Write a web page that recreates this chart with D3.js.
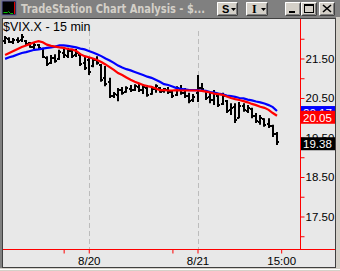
<!DOCTYPE html>
<html><head><meta charset="utf-8">
<script src="https://cdn.jsdelivr.net/npm/d3@7"></script>
<style>html,body{margin:0;padding:0;background:#d4d0c8;overflow:hidden}svg{display:block}</style>
</head><body>
<script>
// ---- data (15-min bars, $VIX.X) ----
const highs = [22.07,22.04,22.02,22.04,22.12,21.97,21.92,21.89,21.87,21.77,
21.56,21.59,21.61,21.72,21.77,21.77,21.74,21.74,21.61,21.54,
21.51,21.51,21.56,21.36,21.31,21.01,20.65,20.75,20.78,20.80,
20.83,20.85,20.88,20.85,20.83,20.80,20.85,20.78,20.75,20.78,
20.70,20.80,20.83,20.75,20.63,20.60,21.08,20.88,20.70,20.65,
20.70,20.58,20.63,20.45,20.37,20.37,20.40,20.37,20.32,20.25,
20.12,20.07,19.99,19.99,19.82,19.64];
const lows = [21.87,21.89,21.87,21.89,21.92,21.82,21.77,21.74,21.72,21.51,
21.31,21.36,21.39,21.46,21.51,21.51,21.51,21.54,21.31,21.21,
21.08,21.28,21.34,20.91,20.80,20.50,20.50,20.42,20.58,20.63,
20.65,20.68,20.65,20.60,20.53,20.58,20.63,20.63,20.63,20.60,
20.50,20.55,20.58,20.50,20.37,20.40,20.40,20.68,20.45,20.37,
20.32,20.27,20.32,20.12,20.07,19.87,19.99,20.15,20.12,19.99,
19.87,19.82,19.77,19.74,19.51,19.31];
const opens = [21.95,22.00,21.92,21.97,21.96,21.95,21.88,21.80,21.84,21.75,
21.52,21.38,21.50,21.48,21.65,21.57,21.68,21.58,21.60,21.38,
21.45,21.30,21.46,21.34,21.00,20.90,20.56,20.58,20.70,20.64,
20.74,20.71,20.79,20.70,20.76,20.60,20.72,20.76,20.67,20.70,
20.64,20.57,20.74,20.63,20.56,20.44,20.62,20.76,20.68,20.52,
20.44,20.55,20.35,20.42,20.20,20.28,20.00,20.30,20.18,20.22,
20.05,19.90,19.97,19.84,19.78,19.60];
const closes = [22.02,21.93,21.98,21.95,22.05,21.86,21.80,21.85,21.76,21.55,
21.35,21.52,21.44,21.66,21.58,21.70,21.56,21.64,21.36,21.25,
21.15,21.47,21.38,20.95,20.86,20.55,20.60,20.70,20.62,20.76,
20.70,20.80,20.70,20.78,20.58,20.74,20.80,20.66,20.72,20.64,
20.55,20.75,20.62,20.55,20.42,20.52,20.75,20.72,20.50,20.45,
20.62,20.33,20.55,20.18,20.25,19.95,20.30,20.20,20.25,20.05,
19.92,20.00,19.82,19.80,19.58,19.38];
const avgFast = [21.59,21.64,21.69,21.74,21.79,21.83,21.87,21.91,21.94,21.91,
21.85,21.82,21.80,21.78,21.77,21.74,21.73,21.69,21.61,21.56,
21.53,21.50,21.46,21.41,21.35,21.28,21.21,21.13,21.08,21.02,
20.96,20.91,20.87,20.83,20.80,20.78,20.74,20.70,20.70,20.69,
20.69,20.70,20.69,20.69,20.69,20.69,20.69,20.68,20.66,20.64,
20.61,20.60,20.58,20.54,20.50,20.47,20.45,20.42,20.39,20.35,
20.32,20.28,20.25,20.20,20.12,20.05];
const avgSlow = [21.49,21.53,21.56,21.60,21.64,21.66,21.69,21.72,21.73,21.75,
21.77,21.78,21.80,21.83,21.83,21.82,21.80,21.78,21.75,21.73,
21.69,21.65,21.61,21.56,21.50,21.45,21.39,21.32,21.27,21.23,
21.20,21.16,21.12,21.08,21.04,21.01,20.96,20.91,20.85,20.83,
20.79,20.75,20.73,20.72,20.70,20.70,20.70,20.69,20.68,20.65,
20.64,20.61,20.59,20.56,20.55,20.53,20.50,20.49,20.46,20.44,
20.41,20.39,20.36,20.32,20.27,20.17];
const xTickIdx    = [14, 20, 40, 46, 66];
const xTickLabels = ["", "8/20", "", "8/21", "15:00"];
const dayBreakIdx = [20, 46];
const yTickValues = [17.0,17.5,18.0,18.5,19.0,19.5,20.0,20.5,21.0,21.5,22.0];
const yLabelValues = [17.5,18.5,19.5,20.5,21.5];
const symbolText = "$VIX.X - 15 min";
const titleText = "TradeStation Chart Analysis - $...";

// ---- layout ----
const W = 340, H = 271;
const svg = d3.select("body").append("svg").attr("width", W).attr("height", H);
const FONT = "'Liberation Sans', Arial, sans-serif";

// window frame
svg.append("rect").attr("x",0).attr("y",0).attr("width",W).attr("height",H).attr("fill","#d4d0c8");
// title bar
svg.append("rect").attr("x",0).attr("y",0).attr("width",W).attr("height",17).attr("fill","#808080");
// icon
svg.append("rect").attr("x",2).attr("y",1).attr("width",14).attr("height",14).attr("fill","#000").attr("stroke","#5a5a9a").attr("stroke-width",1);
svg.append("line").attr("x1",14.5).attr("x2",14.5).attr("y1",2).attr("y2",14).attr("stroke","#e00000").attr("stroke-width",1);
svg.append("path").attr("d","M3.5,12.5 L7.5,12.5 L8.5,11.5 L10.5,13.5 L13,13.5").attr("fill","none").attr("stroke","#00c000").attr("stroke-width",1);
svg.append("text").attr("x",21).attr("y",13).attr("fill","#d4d0c8")
  .attr("font-family","'DejaVu Sans', Verdana, sans-serif").attr("font-weight","bold").attr("font-size",12)
  .attr("textLength",184).attr("lengthAdjust","spacingAndGlyphs").text(titleText);

function button(x, y, w, h) {
  svg.append("rect").attr("x",x).attr("y",y).attr("width",w).attr("height",h).attr("fill","#d4d0c8");
  svg.append("path").attr("d",`M${x+0.5},${y+h-0.5} V${y+0.5} H${x+w-0.5}`).attr("fill","none").attr("stroke","#fff");
  svg.append("path").attr("d",`M${x+0.5},${y+h-0.5} H${x+w-0.5} V${y+0.5}`).attr("fill","none").attr("stroke","#404040");
  svg.append("path").attr("d",`M${x+1.5},${y+h-1.5} H${x+w-1.5} V${y+1.5}`).attr("fill","none").attr("stroke","#808080");
}
button(217,2,21,14);
svg.append("text").attr("x",222).attr("y",13).attr("font-family",FONT).attr("font-weight","bold").attr("font-size",11).text("S");
svg.append("path").attr("d","M231,8 h5 l-2.5,3 z").attr("fill","#000");
button(246,2,22,14);
svg.append("text").attr("x",252).attr("y",13).attr("font-family","'Liberation Serif', serif").attr("font-weight","bold").attr("font-size",12).text("I");
svg.append("path").attr("d","M261,8 h5 l-2.5,3 z").attr("fill","#000");
button(285,2,16,14);
svg.append("rect").attr("x",289).attr("y",11).attr("width",6).attr("height",2).attr("fill","#000");
button(301,2,16,14);
svg.append("rect").attr("x",304.5).attr("y",4.5).attr("width",9).attr("height",8).attr("fill","none").attr("stroke","#000");
svg.append("line").attr("x1",304.5).attr("x2",313.5).attr("y1",5.5).attr("y2",5.5).attr("stroke","#000");
button(319,2,16,14);
svg.append("path").attr("d","M323,5 L331,12 M331,5 L323,12").attr("stroke","#000").attr("stroke-width",1.6);

// chart panel
svg.append("rect").attr("x",0).attr("y",17).attr("width",336).attr("height",251).attr("fill","#808080");
svg.append("rect").attr("x",2).attr("y",18).attr("width",334).attr("height",250).attr("fill","#404040");
svg.append("rect").attr("x",3).attr("y",19).attr("width",332).attr("height",248).attr("fill","#e8e8e8");
svg.append("line").attr("x1",0).attr("x2",340).attr("y1",269.5).attr("y2",269.5).attr("stroke","#fff");

// scales
const plotLeft = 3, plotRight = 300, plotTop = 19, plotBottom = 249;
const x = d3.scaleLinear().domain([-0.5, 70.5]).range([plotLeft, plotRight]);
const y = d3.scaleLinear().domain([16.677, 22.5]).range([plotBottom, plotTop]);

const g = svg.append("g");

// day separators
g.selectAll("line.grid").data(dayBreakIdx).join("line")
  .attr("x1", d => Math.round(x(d)) + 0.5).attr("x2", d => Math.round(x(d)) + 0.5)
  .attr("y1", 31).attr("y2", plotBottom)
  .attr("stroke","#bcbcbc").attr("stroke-dasharray","5,3");

// symbol label
svg.append("text").attr("x",3).attr("y",31).attr("font-family",FONT).attr("font-size",12.5).attr("fill","#000").text(symbolText);

// OHLC bars
const idx = d3.range(highs.length);
const bars = g.append("g");
bars.selectAll("line.bar").data(idx).join("line")
  .attr("x1", i => Math.round(x(i))).attr("x2", i => Math.round(x(i)))
  .attr("y1", i => y(highs[i])).attr("y2", i => y(lows[i]))
  .attr("stroke","#000").attr("stroke-width",2);
bars.selectAll("line.op").data(idx).join("line")
  .attr("x1", i => Math.round(x(i)) - 2).attr("x2", i => Math.round(x(i)))
  .attr("y1", i => Math.round(y(opens[i]))).attr("y2", i => Math.round(y(opens[i])))
  .attr("stroke","#000").attr("stroke-width",2);
bars.selectAll("line.cl").data(idx).join("line")
  .attr("x1", i => Math.round(x(i))).attr("x2", i => Math.round(x(i)) + 2)
  .attr("y1", i => Math.round(y(closes[i]))).attr("y2", i => Math.round(y(closes[i])))
  .attr("stroke","#000").attr("stroke-width",2);

// averages
const line = d3.line().x((d,i) => x(i)).y(d => y(d));
g.append("path").datum(avgSlow).attr("d", line).attr("fill","none").attr("stroke","#0000ff").attr("stroke-width",2.2);
g.append("path").datum(avgFast).attr("d", line).attr("fill","none").attr("stroke","#ff0000").attr("stroke-width",2.2);

// axes (red)
const RED = "#ff0000";
svg.append("line").attr("x1",300.5).attr("x2",300.5).attr("y1",19).attr("y2",plotBottom).attr("stroke",RED);
svg.append("line").attr("x1",3).attr("x2",335).attr("y1",plotBottom+0.5).attr("y2",plotBottom+0.5).attr("stroke",RED);

const yAxis = d3.axisRight(y).tickValues(yTickValues).tickSize(4).tickPadding(1)
  .tickFormat(d => yLabelValues.includes(d) ? d.toFixed(2) : "");
const ya = svg.append("g").attr("transform","translate(300.5,0)").call(yAxis);
ya.select(".domain").remove();
ya.selectAll(".tick line").attr("stroke",RED);
ya.selectAll(".tick text").attr("fill","#000").attr("font-family",FONT).attr("font-size",11.5);

const xAxis = d3.axisBottom(x).tickValues(xTickIdx).tickSize(4).tickPadding(3)
  .tickFormat((d,i) => xTickLabels[i]);
const xa = svg.append("g").attr("transform",`translate(0,${plotBottom+0.5})`).call(xAxis);
xa.select(".domain").remove();
xa.selectAll(".tick line").attr("stroke",RED);
xa.selectAll(".tick text").attr("fill","#000").attr("font-family",FONT).attr("font-size",11.5);

// last value boxes
const lastVals = [
  {v: avgSlow[avgSlow.length-1], bg:"#0000ff"},
  {v: avgFast[avgFast.length-1], bg:"#ff0000"},
  {v: closes[closes.length-1], bg:"#000000"}
];
const boxes = svg.append("g").selectAll("g").data(lastVals).join("g");
boxes.append("rect").attr("x",301).attr("y", d => y(d.v) - 5).attr("width",34).attr("height",13).attr("fill", d => d.bg);
boxes.append("text").attr("x",303).attr("y", d => y(d.v) + 6).attr("fill","#fff")
  .attr("font-family",FONT).attr("font-size",11.5).text(d => d.v.toFixed(2));
</script>
</body></html>
